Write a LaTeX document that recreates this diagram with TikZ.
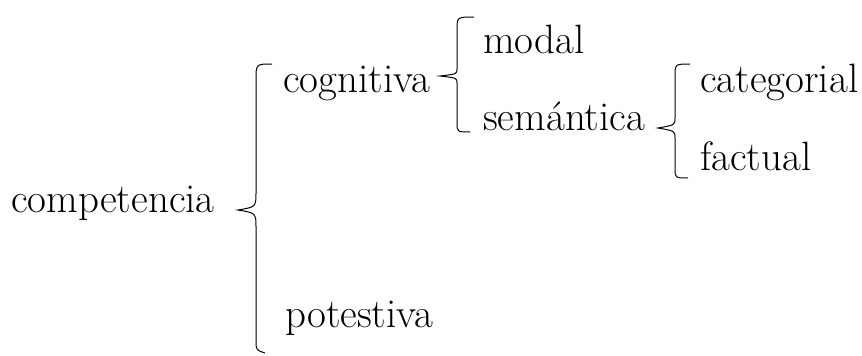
\documentclass[tikz,border=0pt]{standalone}
\begin{document}
\begin{tikzpicture}[x=1pt,y=-1pt,
  lbl/.style={anchor=base west,inner sep=0pt,font=\fontsize{41}{44}\selectfont},
  bracestyle/.style={line width=1pt,black}]
\useasboundingbox (0,0) rectangle (862,356);
\node[lbl] (comp) at (11,212) {competencia};
\node[lbl] (cogn) at (283,92) {cognitiva};
\node[lbl] (pote) at (285,327) {potestiva};
\node[lbl] (moda) at (483,53) {modal};
\node[lbl] (sema) at (483,130) {semántica};
\node[lbl] (cate) at (700,92) {categorial};
\node[lbl] (fact) at (700,170) {factual};
% big brace
\draw[bracestyle] (272,64) .. controls (256,64) .. (256,80) -- (256,192)
  .. controls (256,207) .. (238,210) .. controls (256,213) .. (256,228)
  -- (256,340) .. controls (256,350) .. (265,353);
% cognitiva brace
\draw[bracestyle] (474,17) .. controls (457,17) .. (457,30) -- (457,69)
  .. controls (457,74) .. (440,76) .. controls (457,78) .. (457,83)
  -- (457,122) .. controls (457,132) .. (470,132);
% semantica brace
\draw[bracestyle] (690,64) .. controls (675,64) .. (675,77) -- (675,118)
  .. controls (675,125) .. (658,128) .. controls (675,131) .. (675,138)
  -- (675,168) .. controls (675,178) .. (688,178);
\end{tikzpicture}
\end{document}
